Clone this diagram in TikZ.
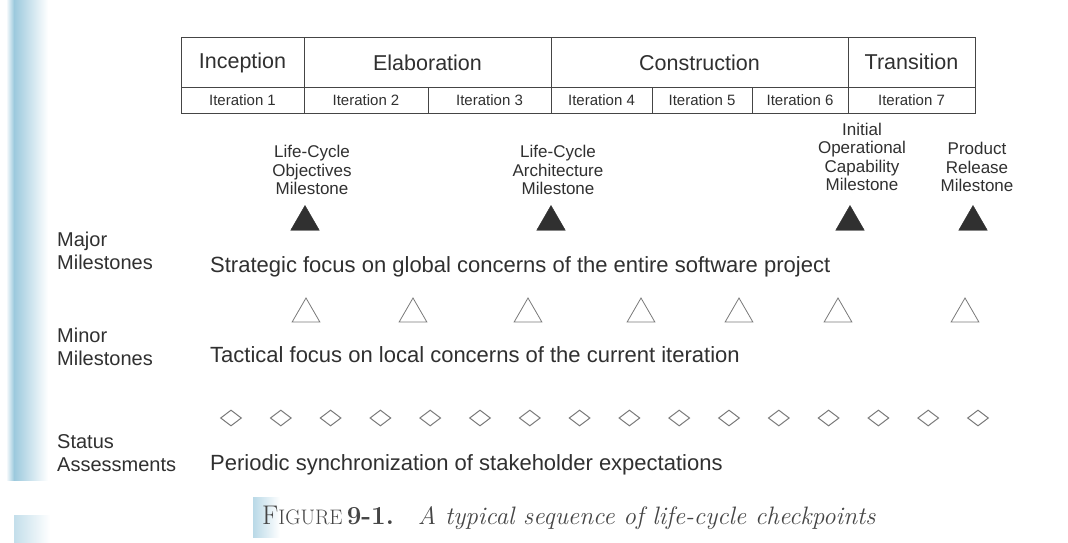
\documentclass[tikz,border=0pt]{standalone}
\usepackage{fontspec}
\setsansfont{Liberation Sans}
\usetikzlibrary{shapes.geometric}
\definecolor{ink}{HTML}{303030}
\definecolor{rule}{HTML}{454545}
\definecolor{strip}{HTML}{9CC9DD}
\definecolor{hollow}{HTML}{7A7A7A}
\begin{document}
\begin{tikzpicture}[x=1pt,y=-1pt,
  every node/.style={font=\sffamily, text=ink},
  phase/.style={draw=rule, line width=1pt, inner sep=0pt, minimum height=49,
    font=\sffamily\fontsize{21.5}{24}\selectfont},
  iter/.style={draw=rule, line width=1pt, inner sep=0pt, minimum height=26,
    font=\sffamily\fontsize{15}{17}\selectfont},
  mslabel/.style={align=center, inner sep=0pt, font=\sffamily\fontsize{17}{18.5}\selectfont},
  rowlabel/.style={align=left, anchor=west, inner sep=0pt, font=\sffamily\fontsize{20}{23}\selectfont},
  focus/.style={anchor=base west, inner sep=0pt, font=\sffamily\fontsize{22}{25}\selectfont},
  major/.style={regular polygon, regular polygon sides=3, minimum size=33, inner sep=0pt,
    fill=ink, draw=ink},
  minor/.style={regular polygon, regular polygon sides=3, minimum size=32, inner sep=0pt,
    draw=hollow, line width=0.8pt, fill=white},
  status/.style={diamond, minimum width=21, minimum height=16, inner sep=0pt,
    draw=hollow, line width=1pt}
]
\useasboundingbox (0,0) rectangle (1068,543);
\fill[white] (0,0) rectangle (1068,543);
% decorative page strip
\shade[left color=white, right color=strip] (6,0) rectangle (14,480);
\shade[left color=strip, right color=white] (14,0) rectangle (48,480);
\shade[left color=strip!60, right color=white] (14,515) rectangle (50,543);
\shade[left color=strip!70, right color=white] (253,497) rectangle (280,537);

% phase row
\node[phase, minimum width=123] (inc) at (242.5,62.5) {Inception};
\node[phase, minimum width=247] (ela) at (427.5,62.5) {Elaboration};
\node[phase, minimum width=297] (con) at (699.5,62.5) {Construction};
\node[phase, minimum width=127] (tra) at (911.5,62.5) {\raisebox{2pt}{Transition}};
% iteration row
\node[iter, minimum width=123] (it1) at (242.5,100) {Iteration 1};
\node[iter, minimum width=124] (it2) at (366,100) {Iteration 2};
\node[iter, minimum width=123] (it3) at (489.5,100) {Iteration 3};
\node[iter, minimum width=101] (it4) at (601.5,100) {Iteration 4};
\node[iter, minimum width=100] (it5) at (702,100) {Iteration 5};
\node[iter, minimum width=96] (it6) at (800,100) {Iteration 6};
\node[iter, minimum width=127] (it7) at (911.5,100) {Iteration 7};

% major milestone labels
\node[mslabel] (lco) at (312,170) {Life-Cycle\\Objectives\\Milestone};
\node[mslabel] (lca) at (558,170) {Life-Cycle\\Architecture\\Milestone};
\node[mslabel] (ioc) at (862,157) {Initial\\Operational\\Capability\\Milestone};
\node[mslabel] (prm) at (977,167) {Product\\Release\\Milestone};
% major milestone triangles
\node[major] (m1) at (305,222) {};
\node[major] (m2) at (551,222) {};
\node[major] (m3) at (850,222) {};
\node[major] (m4) at (973,222) {};

% row labels
\node[rowlabel] (lmaj) at (57,251) {Major\\Milestones};
\node[rowlabel] (lmin) at (57,347) {Minor\\Milestones};
\node[rowlabel] (lsta) at (57,453) {Status\\Assessments};

% focus texts
\node[focus] (fmaj) at (210,272) {Strategic focus on global concerns of the entire software project};
\node[focus] (fmin) at (210,362) {Tactical focus on local concerns of the current iteration};
\node[focus] (fsta) at (210,470) {Periodic synchronization of stakeholder expectations};

% minor milestones
\foreach \x [count=\i] in {306,413,528,641,739,838,965}
  \node[minor] (n\i) at (\x,314) {};

% status assessments
\foreach \i in {0,...,15}
  \node[status] (s\i) at ({231+49.8*\i},418) {};

% caption
\node[anchor=base west, inner sep=0pt, text=ink!90, font=\fontsize{25.2}{28}\selectfont]
  (cap) at (262,524) {{\fontsize{27}{28}\selectfont F}{\fontsize{21}{28}\selectfont IGURE}\,{\fontsize{26}{28}\selectfont\textbf{9-1.}}\hspace{24pt}\textit{A typical sequence of life-cycle checkpoints}};
\end{tikzpicture}
\end{document}
